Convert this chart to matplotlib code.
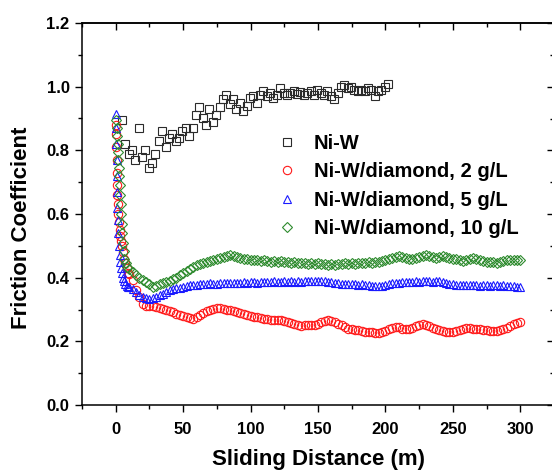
import numpy as np
import matplotlib
matplotlib.use('Agg')
import matplotlib.pyplot as plt
from matplotlib.ticker import MultipleLocator

# ---------------- data ----------------
labels = ['Ni-W', 'Ni-W/diamond, 2 g/L', 'Ni-W/diamond, 5 g/L', 'Ni-W/diamond, 10 g/L']

# Ni-W (black squares), x from 4.5 m with 2.5 m step
niw_x0 = 4.5
niw_y = [0.895, 0.82, 0.79, 0.80, 0.77, 0.87, 0.78, 0.80, 0.745, 0.76,
         0.79, 0.83, 0.86, 0.81, 0.84, 0.85, 0.83, 0.84, 0.86, 0.87,
         0.845, 0.87, 0.91, 0.935, 0.90, 0.88, 0.93, 0.89, 0.91, 0.935,
         0.96, 0.975, 0.945, 0.96, 0.93, 0.95, 0.925, 0.94, 0.965, 0.97,
         0.95, 0.975, 0.985, 0.97, 0.98, 0.965, 0.975, 0.995, 0.98, 0.975,
         0.98, 0.985, 0.978, 0.982, 0.975, 0.98, 0.985, 0.975, 0.99, 0.98,
         0.975, 0.985, 0.97, 0.96, 0.98, 1.0, 1.005, 0.995, 1.0, 0.99,
         0.985, 0.99, 0.985, 0.995, 0.99, 0.97, 0.985, 0.99, 1.0, 1.008]

# early running-in part (x < 10 m)
early_x = [0.0, 0.2, 0.4, 0.6, 0.8, 1.0, 1.3, 1.6, 2.0, 2.5, 3.0, 3.5, 4.0, 4.5, 5.2, 6.0, 7.0, 8.0, 9.0]
green_early_x = [0.5, 0.8, 1.1, 1.4, 1.7, 2.0, 2.3, 2.6, 2.9, 3.2, 3.6, 4.0, 4.4, 4.8, 5.3, 5.8, 6.5, 7.5, 8.5]

red_early = [0.88, 0.85, 0.81, 0.77, 0.73, 0.69, 0.66, 0.63, 0.60, 0.575,
             0.55, 0.53, 0.515, 0.50, 0.48, 0.46, 0.445, 0.43, 0.415]
blue_early = [0.915, 0.87, 0.82, 0.77, 0.72, 0.67, 0.62, 0.58, 0.54, 0.50,
              0.47, 0.45, 0.43, 0.415, 0.40, 0.39, 0.38, 0.375, 0.37]
green_early = [0.895, 0.87, 0.845, 0.82, 0.795, 0.77, 0.745, 0.72, 0.69, 0.66,
               0.63, 0.60, 0.57, 0.54, 0.51, 0.485, 0.46, 0.445, 0.435]

# steady part, 10 m to 300 m every 2.5 m
grid_x0 = 10.0
grid_step = 2.5
red_y = [0.410, 0.392, 0.362, 0.338, 0.318, 0.312, 0.310, 0.311, 0.309, 0.305,
         0.302, 0.300, 0.296, 0.291, 0.287, 0.284, 0.280, 0.277, 0.273, 0.270,
         0.276, 0.284, 0.290, 0.295, 0.299, 0.303, 0.305, 0.304, 0.302, 0.300,
         0.298, 0.295, 0.291, 0.288, 0.285, 0.283, 0.280, 0.277, 0.275, 0.272,
         0.270, 0.269, 0.268, 0.268, 0.267, 0.268, 0.265, 0.262, 0.258, 0.253,
         0.250, 0.248, 0.250, 0.252, 0.250, 0.252, 0.255, 0.260, 0.265, 0.268,
         0.265, 0.260, 0.255, 0.250, 0.245, 0.240, 0.238, 0.235, 0.235, 0.233,
         0.230, 0.228, 0.230, 0.227, 0.225, 0.228, 0.232, 0.238, 0.242, 0.245,
         0.245, 0.240, 0.238, 0.240, 0.243, 0.248, 0.252, 0.255, 0.252, 0.248,
         0.243, 0.240, 0.237, 0.233, 0.230, 0.228, 0.230, 0.233, 0.236, 0.240,
         0.242, 0.242, 0.240, 0.240, 0.238, 0.236, 0.235, 0.233, 0.232, 0.233,
         0.237, 0.240, 0.243, 0.248, 0.253, 0.258, 0.260]
blue_y = [0.370, 0.365, 0.356, 0.347, 0.340, 0.336, 0.334, 0.337, 0.340, 0.345,
          0.350, 0.355, 0.360, 0.363, 0.366, 0.369, 0.372, 0.374, 0.376, 0.377,
          0.378, 0.380, 0.379, 0.381, 0.382, 0.380, 0.381, 0.383, 0.382, 0.384,
          0.383, 0.384, 0.382, 0.384, 0.385, 0.383, 0.385, 0.386, 0.384, 0.386,
          0.385, 0.387, 0.386, 0.388, 0.386, 0.387, 0.389, 0.387, 0.388, 0.386,
          0.388, 0.387, 0.389, 0.388, 0.390, 0.388, 0.389, 0.391, 0.389, 0.387,
          0.386, 0.384, 0.382, 0.381, 0.380, 0.381, 0.379, 0.380, 0.378, 0.379,
          0.378, 0.376, 0.375, 0.374, 0.373, 0.375, 0.378, 0.380, 0.382, 0.383,
          0.384, 0.385, 0.386, 0.385, 0.387, 0.388, 0.386, 0.388, 0.390, 0.388,
          0.387, 0.389, 0.388, 0.386, 0.384, 0.381, 0.379, 0.378, 0.377, 0.378,
          0.377, 0.376, 0.378, 0.377, 0.375, 0.376, 0.377, 0.375, 0.376, 0.377,
          0.375, 0.376, 0.374, 0.375, 0.373, 0.372, 0.370]
green_y = [0.428, 0.418, 0.408, 0.398, 0.392, 0.386, 0.379, 0.372, 0.375, 0.380,
           0.383, 0.386, 0.390, 0.395, 0.400, 0.407, 0.414, 0.420, 0.427, 0.434,
           0.440, 0.443, 0.446, 0.449, 0.452, 0.455, 0.458, 0.461, 0.465, 0.468,
           0.470, 0.468, 0.465, 0.462, 0.460, 0.458, 0.456, 0.457, 0.455, 0.453,
           0.455, 0.452, 0.450, 0.452, 0.449, 0.451, 0.448, 0.450, 0.447, 0.449,
           0.447, 0.445, 0.447, 0.444, 0.446, 0.443, 0.445, 0.442, 0.444, 0.441,
           0.443, 0.441, 0.444, 0.442, 0.445, 0.443, 0.446, 0.444, 0.447, 0.445,
           0.446, 0.448, 0.446, 0.449, 0.450, 0.452, 0.455, 0.458, 0.462, 0.465,
           0.468, 0.466, 0.463, 0.460, 0.458, 0.461, 0.464, 0.467, 0.470, 0.468,
           0.465, 0.463, 0.466, 0.468, 0.466, 0.463, 0.460, 0.458, 0.455, 0.453,
           0.455, 0.458, 0.461, 0.458, 0.455, 0.452, 0.450, 0.448, 0.450, 0.447,
           0.449, 0.452, 0.454, 0.456, 0.455, 0.457, 0.455]

x_ticks = [0, 50, 100, 150, 200, 250, 300]
y_ticks = [0.0, 0.2, 0.4, 0.6, 0.8, 1.0, 1.2]

# ---------------- figure ----------------
plt.rcParams['font.family'] = ['Liberation Sans', 'DejaVu Sans']
plt.rcParams['font.weight'] = 'bold'

fig = plt.figure(figsize=(5.52, 4.71), dpi=100)
W, H = 552, 471
L, R, T, B = 82, 554, 23, 405
ax = fig.add_axes([L / W, (H - B) / H, (R - L) / W, (B - T) / H])

niw_x = niw_x0 + grid_step * np.arange(len(niw_y))
grid_red = grid_x0 + grid_step * np.arange(len(red_y))
grid_blue = grid_x0 + grid_step * np.arange(len(blue_y))
grid_green = grid_x0 + grid_step * np.arange(len(green_y))

red_x = np.concatenate([early_x, grid_red]);  red_all = np.concatenate([red_early, red_y])
blue_x = np.concatenate([early_x, grid_blue]); blue_all = np.concatenate([blue_early, blue_y])
green_x = np.concatenate([green_early_x, grid_green]); green_all = np.concatenate([green_early, green_y])

mk = dict(ls='none', mfc='none', mew=0.8)
ax.plot(niw_x, niw_y, marker='s', ms=5.5, mec='#2b2b2b', label=labels[0], **mk)
ax.plot(red_x, red_all, marker='o', ms=6.0, mec='#ff1a1a', label=labels[1], **mk)
ax.plot(blue_x, blue_all, marker='^', ms=6.2, mec='#1a1aff', label=labels[2], **mk)
ax.plot(green_x, green_all, marker='D', ms=5.5, mec='#2e8b2e', label=labels[3], **mk)

ax.set_xlim(-25, 325)
ax.set_ylim(0, 1.2)
ax.set_xticks(x_ticks)
ax.set_yticks(y_ticks)
ax.set_yticklabels([f'{v:.1f}' for v in y_ticks])
ax.xaxis.set_minor_locator(MultipleLocator(25))
ax.yaxis.set_minor_locator(MultipleLocator(0.1))
ax.tick_params(which='major', direction='out', length=5, width=1.0, labelsize=12, pad=4)
ax.tick_params(axis='x', which='major', pad=7.5)
ax.tick_params(which='minor', direction='out', length=3, width=1.0)
for sp in ax.spines.values():
    sp.set_linewidth(1.1)

secx = ax.secondary_xaxis('top')
secx.set_xticks(x_ticks)
secx.xaxis.set_minor_locator(MultipleLocator(25))
secx.tick_params(which='major', direction='in', length=5, width=1.0, labeltop=False)
secx.tick_params(which='minor', direction='in', length=3, width=1.0)
secx.spines['top'].set_linewidth(1.1)
secy = ax.secondary_yaxis('right')
secy.set_yticks(y_ticks)
secy.yaxis.set_minor_locator(MultipleLocator(0.1))
secy.tick_params(which='major', direction='in', length=5, width=1.0, labelright=False)
secy.tick_params(which='minor', direction='in', length=3, width=1.0)

ax.set_xlabel('Sliding Distance (m)', fontsize=16, fontweight='bold', labelpad=8.5)
ax.set_ylabel('Friction Coefficient', fontsize=16, fontweight='bold')
ax.yaxis.set_label_coords(-0.106, 0.463)

leg = ax.legend(loc='upper left', bbox_to_anchor=(0.414, 0.709), frameon=False,
                fontsize=14.5, handlelength=1.0, handletextpad=0.8, labelspacing=0.46,
                borderpad=0, borderaxespad=0, numpoints=1)

fig.savefig('out.png', dpi=100)
